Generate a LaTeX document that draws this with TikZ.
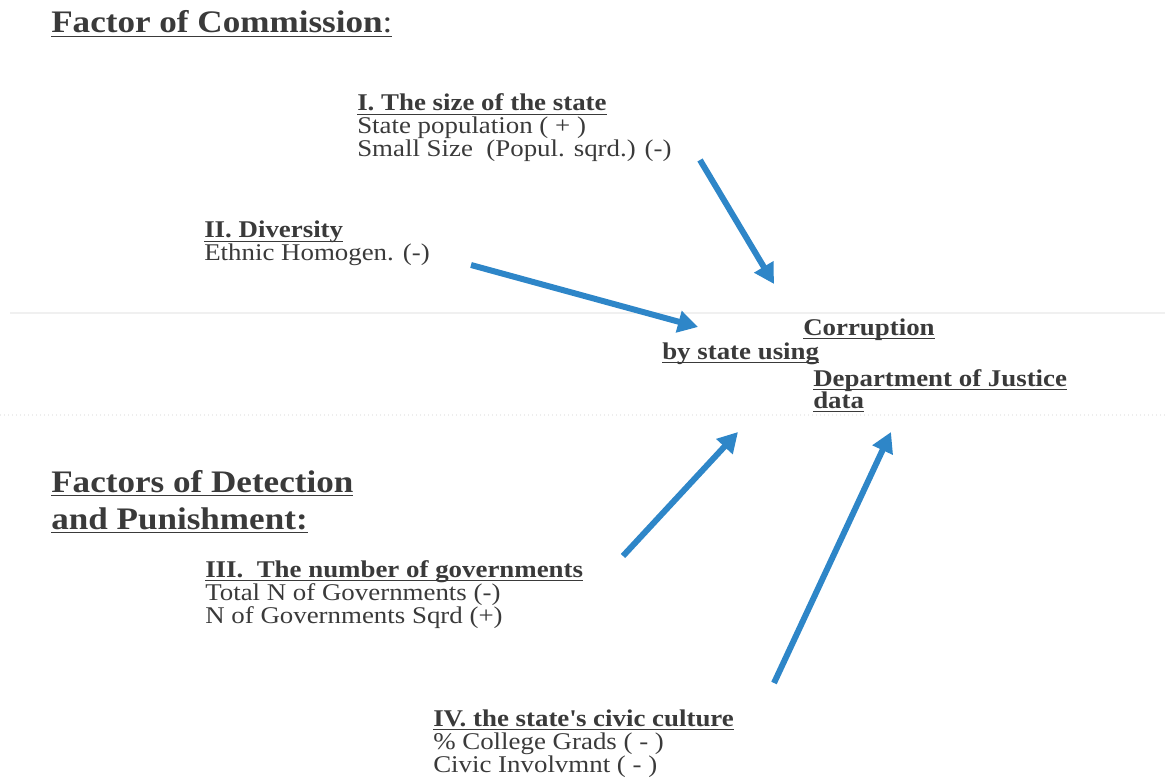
\documentclass[tikz,border=0pt]{standalone}
\usepackage{fontspec}
\setmainfont{Liberation Serif}[FakeStretch=1.12]
\usetikzlibrary{arrows.meta}
\definecolor{txt}{HTML}{3A3A3A}
\definecolor{arr}{HTML}{2E86C8}
\newcommand\uln[1]{\setbox0\hbox{#1}\rlap{\rule[-3pt]{\wd0}{1pt}}\box0}
\tikzset{
  body/.style={anchor=base west, inner sep=0pt, text=txt, font=\fontsize{18}{20}\selectfont},
  head/.style={body, font=\fontsize{18}{20}\selectfont\bfseries},
  big/.style={anchor=base west, inner sep=0pt, text=txt, font=\fontsize{23.5}{27}\selectfont\bfseries},
  blue arrow/.style={draw=arr, line width=4.5pt, -{Triangle[length=15pt,width=16pt]}}
}
\begin{document}
\begin{tikzpicture}[x=0.75pt,y=-0.75pt]
\useasboundingbox (0,0) rectangle (1165,781);
\draw[color=black!6, line width=1.2pt] (10,313) -- (1165,313);
\draw[color=black!7, line width=1pt, dotted] (0,415) -- (1165,415);
% headings
\node[big] (fc) at (51,33) {\uln{Factor of Commission{\mdseries:}}};
\node[big] (fd1) at (51,492) {\uln{Factors of Detection}};
\node[big] (fd2) at (51,529) {\uln{and Punishment:}};
% I
\node[head] (s1) at (357,111) {\uln{I. The size of the state}};
\node[body] (s2) at (357,134) {State population ( + )};
\node[body] (s3) at (357,157) {Small Size\ \ (Popul. sqrd.) (-)};
% II
\node[head] (d1) at (204,238) {\uln{II. Diversity}};
\node[body] (d2) at (204,261) {Ethnic Homogen. (-)};
% center
\node[head] (c1) at (803,335) {\uln{Corruption}};
\node[head] (c2) at (662,359) {\uln{by state using}};
\node[head] (c3) at (813,386) {\uln{Department of Justice}};
\node[head] (c4) at (813,408) {\uln{data}};
% III
\node[head] (g1) at (205,577) {\uln{III.\ \ The number of governments}};
\node[body] (g2) at (205,600) {Total N of Governments (-)};
\node[body] (g3) at (205,623) {N of Governments Sqrd (+)};
% IV
\node[head] (v1) at (433,726) {\uln{IV. the state\textquotesingle s civic culture}};
\node[body] (v2) at (433,749) {\% College Grads ( - )};
\node[body] (v3) at (433,772) {Civic Involvmnt ( - )};
% arrows
\coordinate (a1s) at (700,160); \coordinate (a1e) at (774,284);
\coordinate (a2s) at (471,265); \coordinate (a2e) at (698,327);
\coordinate (a3s) at (623,556); \coordinate (a3e) at (738,432);
\coordinate (a4s) at (774,683); \coordinate (a4e) at (891,432);
\draw[blue arrow] (a1s) -- (a1e);
\draw[blue arrow] (a2s) -- (a2e);
\draw[blue arrow] (a3s) -- (a3e);
\draw[blue arrow] (a4s) -- (a4e);
\end{tikzpicture}
\end{document}
